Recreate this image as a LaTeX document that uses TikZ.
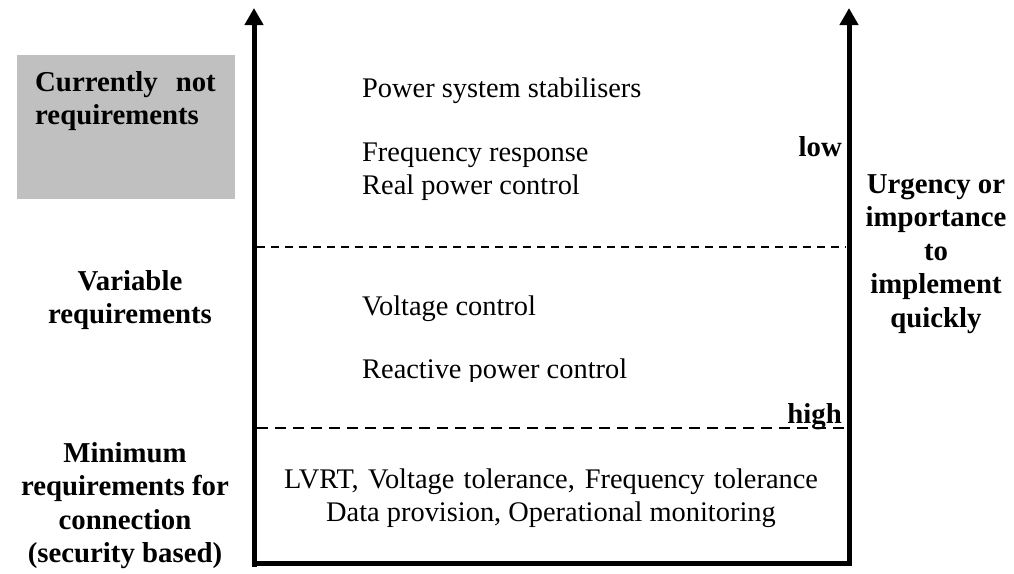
\documentclass[tikz,border=0pt]{standalone}
\usepackage{fontspec}
\setmainfont{Liberation Serif}
\usetikzlibrary{arrows.meta}
\definecolor{boxgray}{HTML}{C0C0C0}
\newcommand{\blk}[2]{\begin{tabular}[t]{@{}#1@{}}#2\end{tabular}}
\tikzset{
  txt/.style={inner sep=0pt, font=\fontsize{28.4}{33.5}\selectfont},
  btxt/.style={inner sep=0pt, font=\fontsize{28.8}{33.5}\selectfont\bfseries},
  axis/.style={line width=5pt, -{Triangle[width=18pt,length=17pt]}},
  thindash/.style={line width=1.5pt, dash pattern=on 8pt off 6pt},
  thickdash/.style={line width=2.5pt, dash pattern=on 11pt off 7pt},
}
\begin{document}
\begin{tikzpicture}[x=1pt,y=-1pt]
\useasboundingbox (0,0) rectangle (1014,573);
% grey box
\fill[boxgray] (17,55) rectangle (235,199);
% axes
\coordinate (bl) at (254,567);
\coordinate (tl) at (254,8);
\coordinate (br) at (849,565);
\coordinate (tr) at (849,8);
\coordinate (blh) at (251.5,563);
\coordinate (brh) at (851.5,563);
\draw[axis] (bl) -- (tl);
\draw[axis] (br) -- (tr);
\draw[line width=5pt] (blh) -- (brh);
% dashed separators
\coordinate (d1a) at (257,247);
\coordinate (d1b) at (846,247);
\coordinate (d2a) at (257,428);
\coordinate (d2b) at (846,428);
\draw[thindash] (d1a) -- (d1b);
\draw[thickdash] (d2a) -- (d2b);
% left labels
\node[btxt, anchor=base west] (cnr) at (35,91) {\blk{l}{Currently\hspace{18pt}not\\requirements}};
\node[btxt, anchor=base] (var) at (130,290) {\blk{c}{Variable\\requirements}};
\node[btxt, anchor=base] (min) at (125,462) {\blk{c}{Minimum\\requirements for\\connection\\(security based)}};
% right labels
\node[btxt, anchor=base] (urg) at (936,193) {\blk{c}{Urgency or\\importance\\to\\implement\\quickly}};
\node[btxt, anchor=base east] (low) at (842,156) {low};
\node[btxt, anchor=base east] (high) at (842,423) {high};
% contents
\node[txt, anchor=base west] (pss) at (362,97) {Power system stabilisers};
\node[txt, anchor=base west] (fr) at (362,161) {\blk{l}{Frequency response\\Real power control}};
\node[txt, anchor=base west] (vc) at (362,315) {Voltage control};
\begin{scope}
\clip (300,340) rectangle (700,381);
\node[txt, anchor=base west] (rpc) at (362,378) {Reactive power control};
\end{scope}
\node[txt, anchor=base] (lvrt) at (551,488) {\blk{c}{\makebox[534pt][s]{LVRT, Voltage tolerance, Frequency tolerance}\\Data provision, Operational monitoring}};
\end{tikzpicture}
\end{document}
